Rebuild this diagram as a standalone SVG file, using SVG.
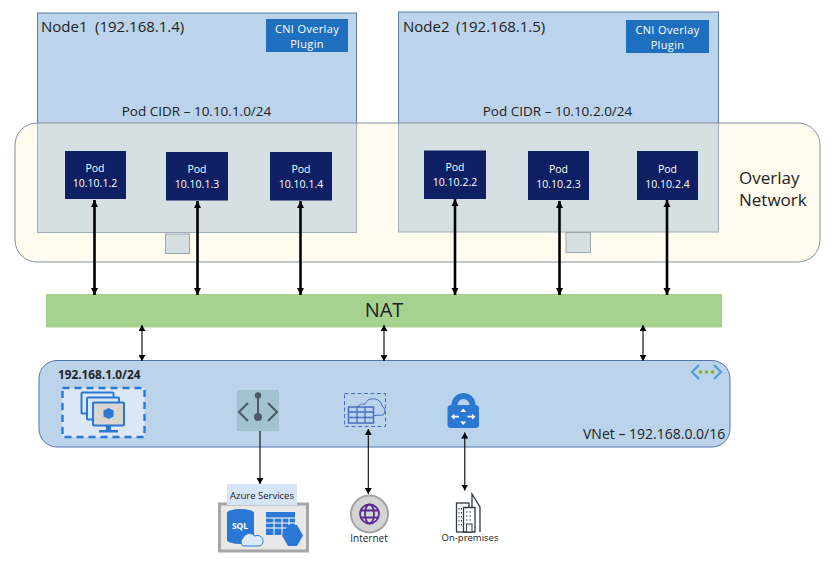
<svg xmlns="http://www.w3.org/2000/svg" width="840" height="567" viewBox="0 0 840 567">
<style>
text{font-family:"Open Sans","Noto Sans","Liberation Sans",sans-serif;fill:#222}
.node{fill:#BBD3EB;stroke:#5F7FA6;stroke-width:1}
.pod{fill:#0E1F63}
.podt{fill:#fff;font-size:10.5px;text-anchor:middle}
.cni{fill:#1F6FBF}
.cnit{fill:#fff;font-size:11px;letter-spacing:.35px;text-anchor:middle}
.lbl{font-size:13.5px;text-anchor:middle}
.sq{fill:#D6E0E3;stroke:#9AA8B2;stroke-width:1}
.thick{stroke:#000;stroke-width:2.6;fill:none;marker-start:url(#ah);marker-end:url(#ah)}
.thin{stroke:#000;stroke-width:1.1;fill:none;marker-start:url(#as);marker-end:url(#as)}
.one{stroke:#000;stroke-width:1.1;fill:none;marker-end:url(#as)}
.b{fill:#2B78D4}
</style>
<defs>
<marker id="ah" markerUnits="userSpaceOnUse" markerWidth="8" markerHeight="8" refX="7" refY="4" orient="auto-start-reverse"><path d="M0 0.500L7 4L0 7.500Z" fill="#000"/></marker>
<marker id="as" markerUnits="userSpaceOnUse" markerWidth="7" markerHeight="7" refX="6" refY="3.500" orient="auto-start-reverse"><path d="M0 0L6 3.500L0 7Z" fill="#000"/></marker>
</defs>
<rect width="840" height="567" fill="#fff"/>
<rect id="node1-box" class="node" x="37.500" y="13" width="319" height="219.500"/>
<rect id="node2-box" class="node" x="398.500" y="12" width="320" height="220"/>
<g id="overlay-network">
<rect x="15" y="123" width="805" height="139" rx="22" fill="#FFF5D4" fill-opacity=".4" stroke="#7F8FA6" stroke-width="1"/>
<text x="739" y="184" font-size="17">Overlay</text>
<text x="739" y="206" font-size="17">Network</text>
</g>
<g id="node1">
<text y="32" font-size="15"><tspan x="41">Node1</tspan><tspan x="95">(192.168.1.4)</tspan></text>
<text class="lbl" x="196.500" y="116">Pod CIDR – 10.10.1.0/24</text>
<rect class="cni" x="266" y="19" width="82" height="33"/>
<text class="cnit" x="307" y="33">CNI Overlay</text>
<text class="cnit" x="307" y="48">Plugin</text>
<rect class="sq" x="165.500" y="234" width="24" height="19.500"/>
</g>
<g id="node2">
<text y="32" font-size="15"><tspan x="403">Node2</tspan><tspan x="456">(192.168.1.5)</tspan></text>
<text class="lbl" x="557.500" y="116">Pod CIDR – 10.10.2.0/24</text>
<rect class="cni" x="626" y="20" width="83" height="33"/>
<text class="cnit" x="667.500" y="34">CNI Overlay</text>
<text class="cnit" x="667.500" y="49">Plugin</text>
<rect class="sq" x="566" y="232.500" width="24.500" height="20"/>
</g>
<g id="pod-1-2"><rect class="pod" x="65" y="151" width="61" height="48"/><text class="podt" x="95" y="172">Pod</text><text class="podt" x="95" y="187">10.10.1.2</text></g>
<g id="pod-1-3"><rect class="pod" x="166" y="152" width="62" height="48.500"/><text class="podt" x="197" y="173">Pod</text><text class="podt" x="197" y="188">10.10.1.3</text></g>
<g id="pod-1-4"><rect class="pod" x="270" y="152" width="62" height="48.500"/><text class="podt" x="301" y="173">Pod</text><text class="podt" x="301" y="188">10.10.1.4</text></g>
<g id="pod-2-2"><rect class="pod" x="424" y="150.500" width="62" height="48.500"/><text class="podt" x="455" y="171">Pod</text><text class="podt" x="455" y="186">10.10.2.2</text></g>
<g id="pod-2-3"><rect class="pod" x="528" y="151" width="61" height="49"/><text class="podt" x="558.500" y="173">Pod</text><text class="podt" x="558.500" y="188">10.10.2.3</text></g>
<g id="pod-2-4"><rect class="pod" x="637" y="151" width="61" height="49"/><text class="podt" x="667.500" y="173">Pod</text><text class="podt" x="667.500" y="188">10.10.2.4</text></g>
<g id="nat"><rect x="46" y="294" width="676" height="33.500" fill="#A5D28E"/><text x="384" y="317" font-size="20" text-anchor="middle">NAT</text></g>
<g id="vnet">
<rect x="39" y="360.500" width="691" height="86.500" rx="18" fill="#BBD3EB" stroke="#5377A8" stroke-width="1"/>
<text x="58" y="379" font-size="11.800" font-weight="700" fill="#111">192.168.1.0/24</text>
<text x="583" y="439" font-size="14">VNet – 192.168.0.0/16</text>
<path d="M699 365L692 372L699 379M714 365L721 372L714 379" fill="none" stroke="#4E9BD6" stroke-width="2"/>
<circle cx="700.500" cy="372" r="1.800" fill="#7FBA00"/><circle cx="706.500" cy="372" r="1.800" fill="#7FBA00"/><circle cx="712.500" cy="372" r="1.800" fill="#7FBA00"/>
</g>
<g id="subnet-vms">
<rect x="62.500" y="388" width="82" height="49" fill="#DCE8F5" stroke="#2B78D4" stroke-width="2.400" stroke-dasharray="7 5"/>
<rect x="81.500" y="392.500" width="32" height="21" rx="1" fill="#DCE8F5" stroke="#2B78D4" stroke-width="2"/>
<rect x="87" y="397.500" width="32" height="22" rx="1" fill="#DCE8F5" stroke="#2B78D4" stroke-width="2"/>
<rect x="93" y="402.500" width="31" height="23" rx="1" fill="#D9D5D0" stroke="#2B78D4" stroke-width="2"/>
<rect x="106" y="426" width="5" height="4" class="b"/><rect x="99" y="430" width="19" height="2.500" class="b"/>
<path d="M108.500 408l5 2.500v6l-5 2.500l-5-2.500v-6z" class="b"/>
</g>
<g id="subnet-delegation">
<rect x="237" y="390" width="42" height="41" fill="#A3C2D0"/>
<path d="M248 403L239 412L248 421M268 403L277 412L268 421M258 395V417" fill="none" stroke="#4A5A66" stroke-width="2"/>
<circle cx="258" cy="395.500" r="3.200" fill="#4A5A66"/><circle cx="258" cy="417" r="4" fill="#4A5A66"/>
</g>
<g id="table-icon">
<rect x="344.500" y="393.500" width="41" height="33" fill="none" stroke="#4A6FBF" stroke-width="1" stroke-dasharray="4 2.500"/>
<path d="M357 407a8 8 0 0 1 8-3a9 9 0 0 1 17 2a5.500 5.500 0 0 1 1 9l-9 .5" fill="#BBD3EB" stroke="#4A6FBF" stroke-width="1"/>
<rect x="348.500" y="407" width="25" height="16" fill="#BBD3EB" stroke="#4A6FBF" stroke-width="1.500"/>
<path d="M348.500 412H373.500M348.500 417.500H373.500M357 407V423M365 407V423" stroke="#4A6FBF" stroke-width="1.300"/>
</g>
<g id="vpn-lock">
<path d="M454.500 407V405a9 9 0 0 1 18 0V407" fill="none" stroke="#2B78D4" stroke-width="6"/>
<rect x="447.500" y="405" width="31.500" height="23" rx="3.500" class="b"/>
<path d="M463.200 408.500l-3 3.500h6zM463.200 425l-3-3.500h6zM451 416.700l3.500-3v6zM475.500 416.700l-3.500-3v6z" fill="#fff"/>
<path d="M454 415.800h5v1.800h-5zM467.500 415.800h5v1.800h-5z" fill="#fff"/>
</g>
<g id="azure-services">
<rect x="219.500" y="504" width="88" height="47" fill="#E8E8E8" stroke="#A6A6A6" stroke-width="3"/>
<rect x="227" y="484" width="70" height="21" fill="#D5E5F8"/>
<text x="262" y="499" font-size="9.500" text-anchor="middle">Azure Services</text>
<path d="M227 513a13.500 4 0 0 1 27 0V540a13.500 4 0 0 1-27 0Z" class="b"/>
<text x="240" y="529" font-size="8.500" font-weight="700" text-anchor="middle" style="fill:#fff">SQL</text>
<path d="M243 546a5 5 0 0 1 0-8a7 7 0 0 1 12-2a5.500 5.500 0 0 1 5 10Z" fill="#DCE8F5" stroke="#2B78D4" stroke-width="1"/>
<rect x="266" y="512" width="29" height="23" class="b"/>
<path d="M266 518H295M266 523H295M266 528H295M274 518V535M282 518V535M289 518V535" stroke="#fff" stroke-width="1"/>
<path d="M288 525H297L303 535.500L297 546H288L282 535.500Z" class="b"/>
</g>
<g id="internet">
<circle cx="369.500" cy="514" r="18.500" fill="#D4D4D4" stroke="#A5A5A5" stroke-width="2"/>
<g fill="none" stroke="#5C2D91" stroke-width="1.800"><circle cx="369.500" cy="514" r="9.500"/><ellipse cx="369.500" cy="514" rx="4.500" ry="9.500"/><path d="M360.500 510.500H378.500M360.500 517.500H378.500"/></g>
<text x="369" y="542" font-size="10" text-anchor="middle">Internet</text>
</g>
<g id="on-premises">
<g fill="#fff" stroke="#2F3A45" stroke-width="1.300"><path d="M472 507V494L480 507V532" fill="none"/><rect x="456.500" y="503" width="12.500" height="29"/><path d="M463.500 507.500H475V532H463.500Z"/></g>
<path d="M459 508V526M461.500 508V526" stroke="#2F3A45" stroke-width="1" stroke-dasharray="1.500 2.500"/>
<path d="M466 512H473M466 516H473M466 520H473" stroke="#2F3A45" stroke-width="1.200" stroke-dasharray="1.500 2"/>
<rect x="466.500" y="524" width="5.500" height="8" fill="#fff" stroke="#2F3A45"/>
<text x="470" y="541" font-size="9.500" text-anchor="middle">On-premises</text>
</g>
<g id="connectors">
<path class="thick" d="M94.500 200V295"/>
<path class="thick" d="M197.500 201V295"/>
<path class="thick" d="M300.500 201V295"/>
<path class="thick" d="M455 199V295"/>
<path class="thick" d="M559.500 201V295"/>
<path class="thick" d="M667 200V295"/>
<path class="thin" d="M142 325V361"/>
<path class="thin" d="M384 325V361"/>
<path class="thin" d="M643 325V361"/>
<path class="one" d="M260 431V484"/>
<path class="thin" d="M368.300 429V494"/>
<path class="thin" d="M464.800 432.500V490.500"/>
</g>
</svg>
